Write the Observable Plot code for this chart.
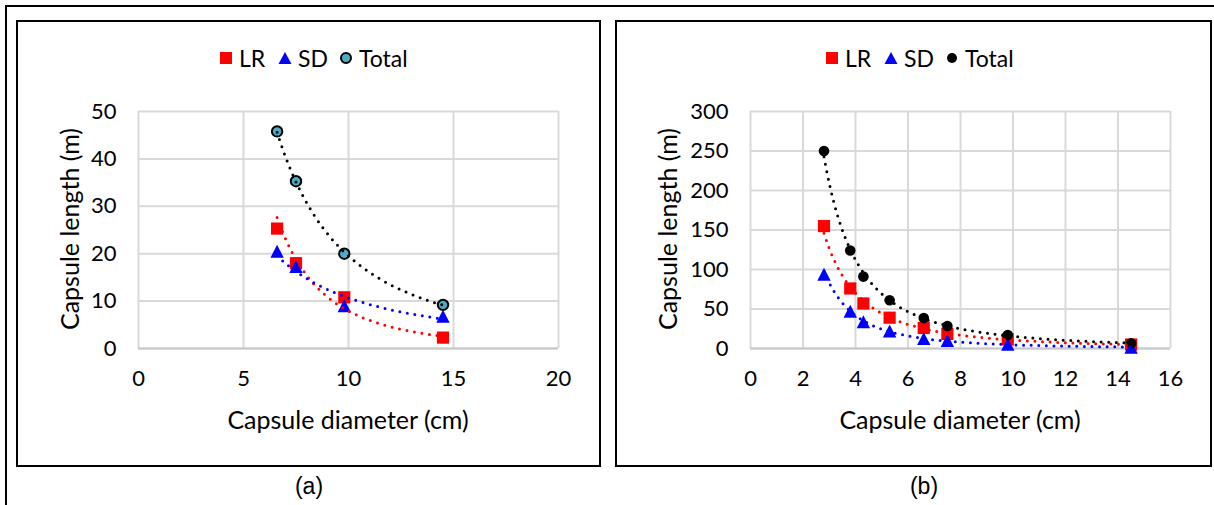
<!DOCTYPE html>
<html>
<head>
<meta charset="utf-8">
<script src="https://cdn.jsdelivr.net/npm/d3@7"></script>
<script src="https://cdn.jsdelivr.net/npm/@observablehq/plot@0.6"></script>
<style>
  html, body { margin: 0; padding: 0; background: #fff; }
  #root { position: relative; width: 1214px; height: 505px; overflow: hidden; background: #fff; font-family: Lato, "Open Sans", sans-serif; color: #000; }
  .abs { position: absolute; }
  .frame { position: absolute; box-sizing: border-box; border: 2px solid #000; }
  .title { position: absolute; white-space: nowrap; font-size: 25px; line-height: 1; transform: translate(-50%, -50%); }
  .ytitle { position: absolute; white-space: nowrap; font-size: 25px; line-height: 1; transform: translate(-50%, -50%) rotate(-90deg); }
  .leg { position: absolute; font-size: 23px; line-height: 1; white-space: nowrap; transform: translateY(-50%); }
  .legsym { position: absolute; transform: translate(-50%, -50%); }
  .sub { position: absolute; font-family: "Liberation Sans", Arial, sans-serif; font-size: 23px; transform: translate(-50%, -50%); line-height: 1; }
</style>
</head>
<body>
<div id="root"></div>
<script>
// ---------------- data ----------------
const seriesNames = ["LR", "SD", "Total"];

// panel (a)
const diameterA = [6.6, 7.5, 9.8, 14.5];
const lrA = [25.3, 18.0, 10.8, 2.3];
const sdA = [20.5, 17.3, 9.0, 6.8];
const totalA = [45.8, 35.3, 20.0, 9.2];
const xTicksA = [0, 5, 10, 15, 20];
const yTicksA = [0, 10, 20, 30, 40, 50];

// panel (b)
const diameterB = [2.8, 3.8, 4.3, 5.3, 6.6, 7.5, 9.8, 14.5];
const lrB = [155, 76, 57, 39, 26, 18.5, 11.5, 5];
const sdB = [94, 47, 34, 22, 12.5, 10, 5.5, 1.7];
const totalB = [250, 124, 91, 61, 38.5, 28.5, 17, 6.7];
const xTicksB = [0, 2, 4, 6, 8, 10, 12, 14, 16];
const yTicksB = [0, 50, 100, 150, 200, 250, 300];

const xTitle = "Capsule diameter (cm)";
const yTitle = "Capsule length (m)";
const panelLabels = ["(a)", "(b)"];

// ---------------- helpers ----------------
const RED = "#ff0000", BLUE = "#0000ff", BLACK = "#000000", TEAL = "#4bacc6";

const squareSym = { draw(ctx, size) { const r = Math.sqrt(size / Math.PI); ctx.rect(-r, -r, 2 * r, 2 * r); } };
const triSym = { draw(ctx, size) { const r = Math.sqrt(size / Math.PI); ctx.moveTo(0, -r * 0.97); ctx.lineTo(r, r * 0.97); ctx.lineTo(-r, r * 0.97); ctx.closePath(); } };

// Excel-style power trendline (least squares in log-log space) fitted to the data
function powerTrend(xs, ys) {
  const lx = xs.map(Math.log), ly = ys.map(Math.log);
  const mx = d3.mean(lx), my = d3.mean(ly);
  const b = d3.sum(lx, (v, i) => (v - mx) * (ly[i] - my)) / d3.sum(lx, v => (v - mx) ** 2);
  const a = Math.exp(my - b * mx);
  const [x0, x1] = d3.extent(xs);
  const n = 120;
  return d3.range(n + 1).map(i => { const x = x0 + (x1 - x0) * i / n; return { x, y: a * Math.pow(x, b) }; });
}

function rows(xs, ys) { return xs.map((x, i) => ({ x, y: ys[i] })); }

function makePanel(cfg) {
  const gridStyle = { stroke: "#d9d9d9", strokeOpacity: 1, strokeWidth: 2 };
  const dotted = { strokeWidth: 3, strokeDasharray: "0 7.6", strokeLinecap: "round" };
  const svg = Plot.plot({
    width: cfg.width,
    height: cfg.height,
    marginLeft: cfg.ml, marginRight: cfg.mr, marginTop: cfg.mt, marginBottom: cfg.mb,
    style: { fontFamily: "Lato, 'Open Sans', sans-serif", fontSize: "22px", color: "#000", background: "transparent", overflow: "visible" },
    x: { domain: [cfg.xTicks[0], cfg.xTicks[cfg.xTicks.length - 1]] },
    y: { domain: [cfg.yTicks[0], cfg.yTicks[cfg.yTicks.length - 1]] },
    marks: [
      Plot.gridX(cfg.xTicks, gridStyle),
      Plot.gridY(cfg.yTicks, gridStyle),
      Plot.ruleY([cfg.yTicks[0]], { stroke: "#c8c8c8", strokeWidth: 2 }),
      Plot.axisX(cfg.xTicks, { tickSize: 0, tickPadding: 22, label: null, tickFormat: d => String(d) }),
      Plot.axisY(cfg.yTicks, { tickSize: 0, tickPadding: 22, label: null, tickFormat: d => String(d) }),
      Plot.dot(rows(cfg.xs, cfg.lr), { x: "x", y: "y", symbol: squareSym, r: 6.1, fill: RED, stroke: "none" }),
      Plot.dot(rows(cfg.xs, cfg.sd), { x: "x", y: "y", symbol: triSym, r: 6.7, fill: BLUE, stroke: "none" }),
      Plot.dot(rows(cfg.xs, cfg.total), cfg.totalDot),
      Plot.line(powerTrend(cfg.xs, cfg.lr), { x: "x", y: "y", stroke: RED, ...dotted }),
      Plot.line(powerTrend(cfg.xs, cfg.sd), { x: "x", y: "y", stroke: BLUE, ...dotted }),
      Plot.line(powerTrend(cfg.xs, cfg.total), { x: "x", y: "y", stroke: BLACK, ...dotted })
    ]
  });
  svg.style.position = "absolute";
  svg.style.left = cfg.left + "px";
  svg.style.top = cfg.top + "px";
  return svg;
}

const root = document.getElementById("root");
function el(cls, text, styles) {
  const d = document.createElement("div");
  d.className = cls;
  if (text != null) d.textContent = text;
  Object.assign(d.style, styles || {});
  root.appendChild(d);
  return d;
}
function legendSym(html, x, y) {
  const d = el("legsym", null, { left: x + "px", top: y + "px" });
  d.innerHTML = html;
  d.style.lineHeight = "0";
}

// outer figure lines
el("abs", null, { left: "5px", top: "5px", width: "1209px", height: "2px", background: "#000" });
el("abs", null, { left: "5px", top: "5px", width: "2px", height: "500px", background: "#000" });

// panel frames
const panels = [
  { left: 16, top: 20, width: 585, height: 447, ml: 122, mr: 43, mt: 91, mb: 119,
    xs: diameterA, lr: lrA, sd: sdA, total: totalA, xTicks: xTicksA, yTicks: yTicksA,
    totalDot: { x: "x", y: "y", r: 5.2, fill: TEAL, stroke: BLACK, strokeWidth: 2 },
    circleLegend: `<svg width="14" height="14"><circle cx="7" cy="7" r="5" fill="${TEAL}" stroke="#000" stroke-width="2"/></svg>`,
    legX: 226, xTitleX: 348, yTitleX: 69, subX: 309 },
  { left: 615, top: 20, width: 597, height: 447, ml: 135, mr: 42, mt: 91, mb: 119,
    xs: diameterB, lr: lrB, sd: sdB, total: totalB, xTicks: xTicksB, yTicks: yTicksB,
    totalDot: { x: "x", y: "y", r: 5.3, fill: BLACK, stroke: "none" },
    circleLegend: `<svg width="14" height="14"><circle cx="7" cy="7" r="5" fill="#000"/></svg>`,
    legX: 832, xTitleX: 960, yTitleX: 667, subX: 924 }
];

panels.forEach((p, i) => {
  el("frame", null, { left: p.left + "px", top: p.top + "px", width: p.width + "px", height: p.height + "px" });
  root.appendChild(makePanel(p));
  // legend
  const ly = 58, lx = p.legX;
  legendSym(`<svg width="13" height="13"><rect x="0.5" y="0.5" width="12" height="12" fill="${RED}"/></svg>`, lx, ly);
  el("leg", seriesNames[0], { left: (lx + 13) + "px", top: ly + "px" });
  legendSym(`<svg width="14" height="13"><polygon points="7,0.5 13.5,12.5 0.5,12.5" fill="${BLUE}"/></svg>`, lx + 59, ly);
  el("leg", seriesNames[1], { left: (lx + 72) + "px", top: ly + "px" });
  legendSym(p.circleLegend, lx + 120, ly);
  el("leg", seriesNames[2], { left: (lx + 133) + "px", top: ly + "px" });
  // axis titles
  el("title", xTitle, { left: p.xTitleX + "px", top: "419px" });
  el("ytitle", yTitle, { left: p.yTitleX + "px", top: "229px" });
  // panel label
  el("sub", panelLabels[i], { left: p.subX + "px", top: "486px" });
});
</script>
</body>
</html>
